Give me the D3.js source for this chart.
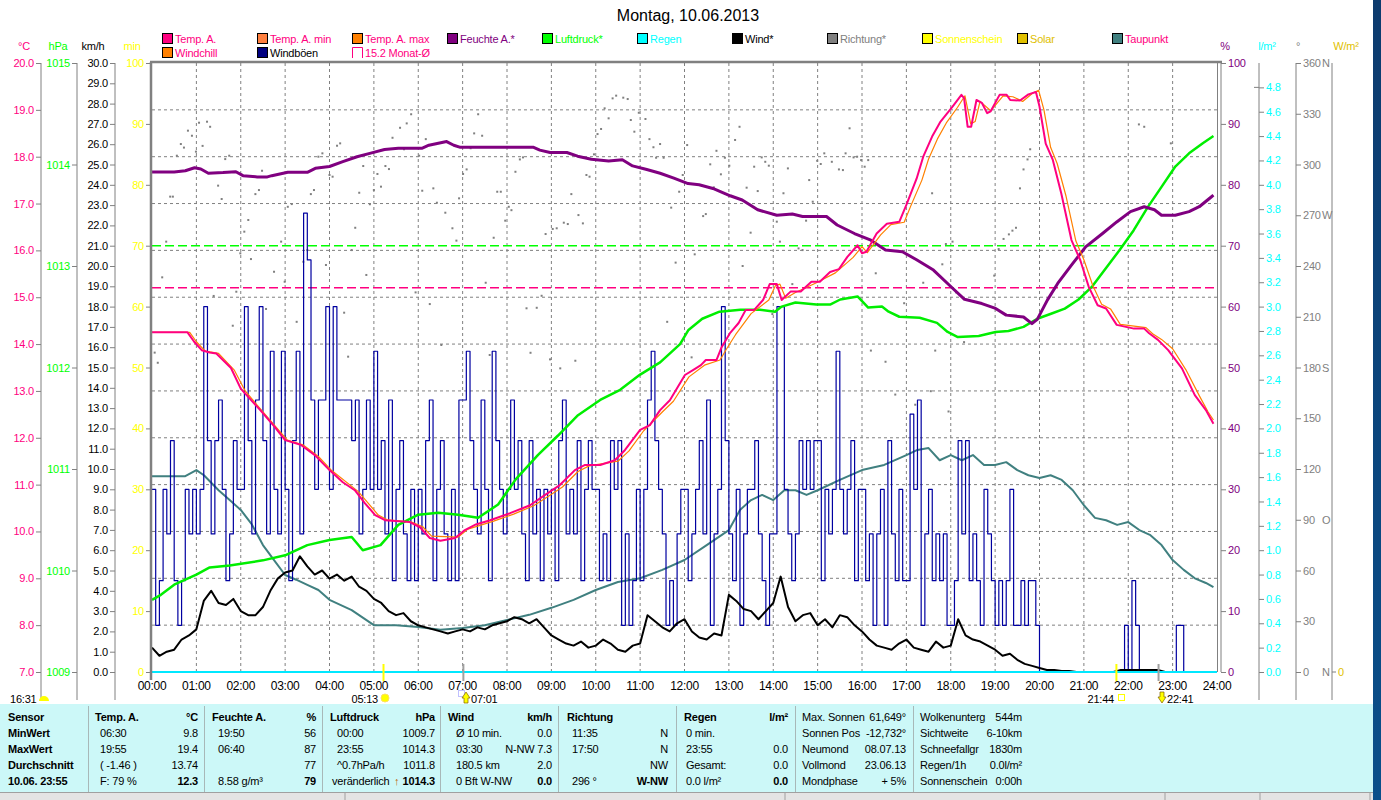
<!DOCTYPE html>
<html><head><meta charset="utf-8">
<script src="https://cdn.jsdelivr.net/npm/d3@7"></script>
<style>body{margin:0;background:#fff}svg{display:block}</style>
</head><body><svg id="c" width="1381" height="800"></svg>
<script>
// ---------------- DATA ----------------
const title = "Montag, 10.06.2013";
const hourLabels = ["00:00","01:00","02:00","03:00","04:00","05:00","06:00","07:00","08:00","09:00","10:00","11:00","12:00","13:00","14:00","15:00","16:00","17:00","18:00","19:00","20:00","21:00","22:00","23:00","24:00"];
const tempTicks = [7,8,9,10,11,12,13,14,15,16,17,18,19,20];
const pressTicks = [1009,1010,1011,1012,1013,1014,1015];
const windTicks = d3.range(0,30.001,1);
const minTicks = [0,10,20,30,40,50,60,70,80,90,100];
const pctTicks = [0,10,20,30,40,50,60,70,80,90,100];
const rainTicks = d3.range(0,4.801,0.2);
const dirTicks = [0,30,60,90,120,150,180,210,240,270,300,330,360];
const dirLetters = {0:"N",90:"O",180:"S",270:"W",360:"N"};
const monthAvgTemp = 15.2;
const monthAvgPress = 1013.2;

// Temp. A. [hour, °C]
const tempA = [[0,14.25],[0.8,14.25],[0.95,14.05],[1.12,13.87],[1.3,13.82],[1.45,13.8],[1.78,13.49],[2.0,13.05],[2.43,12.6],[2.75,12.25],[3.0,11.95],[3.35,11.85],[3.67,11.63],[4.0,11.31],[4.3,11.05],[4.57,10.88],[4.8,10.6],[5.03,10.35],[5.25,10.24],[5.81,10.2],[6.04,10.09],[6.26,9.86],[6.5,9.8],[6.83,9.86],[7.05,10.03],[7.3,10.15],[7.62,10.24],[8.07,10.39],[8.52,10.56],[8.86,10.78],[9.19,10.99],[9.53,11.31],[9.76,11.42],[10.1,11.42],[10.43,11.52],[10.66,11.74],[11.0,12.17],[11.22,12.27],[11.45,12.59],[11.67,12.8],[12.01,13.34],[12.2,13.45],[12.37,13.55],[12.48,13.66],[12.72,13.66],[12.83,13.92],[13.03,14.24],[13.22,14.45],[13.38,14.73],[13.57,14.73],[13.77,14.94],[13.92,15.28],[14.08,15.28],[14.19,14.94],[14.39,15.12],[14.62,15.12],[14.86,15.33],[15.05,15.33],[15.28,15.54],[15.48,15.6],[15.67,15.86],[15.9,16.11],[16.0,15.94],[16.1,15.97],[16.33,16.36],[16.56,16.57],[16.84,16.61],[17.0,16.97],[17.23,17.53],[17.38,18.0],[17.58,18.43],[17.77,18.75],[18.04,19.07],[18.24,19.32],[18.3,19.25],[18.38,18.64],[18.46,18.64],[18.58,19.21],[18.7,19.15],[18.82,18.93],[18.9,18.97],[19.1,19.32],[19.26,19.32],[19.34,19.21],[19.56,19.2],[19.75,19.33],[19.92,19.38],[20.0,19.07],[20.14,18.28],[20.3,17.93],[20.49,17.22],[20.72,16.22],[20.92,15.79],[21.11,15.22],[21.31,14.83],[21.5,14.76],[21.74,14.41],[22.13,14.33],[22.36,14.33],[22.47,14.23],[22.67,14.09],[22.9,13.87],[23.21,13.48],[23.5,12.91],[23.75,12.59],[23.92,12.3]];

// Temp. A. max / Windchill (orange)
const tempMax = [[0,14.25],[0.85,14.25],[1.0,14.05],[1.2,13.85],[1.5,13.8],[1.85,13.45],[2.1,13.0],[2.5,12.55],[3.05,11.95],[3.4,11.85],[3.75,11.6],[4.05,11.3],[4.65,10.85],[5.1,10.35],[5.3,10.25],[5.85,10.2],[6.1,10.1],[6.3,9.9],[6.9,9.88],[7.12,10.05],[7.7,10.22],[8.15,10.37],[8.6,10.55],[8.95,10.76],[9.25,10.95],[9.6,11.28],[9.85,11.4],[10.5,11.5],[10.75,11.72],[11.08,12.15],[11.5,12.55],[11.75,12.78],[12.1,13.3],[12.45,13.55],[12.8,13.66],[12.95,13.9],[13.15,14.2],[13.5,14.65],[13.9,14.94],[14.05,15.25],[14.15,15.28],[14.28,14.98],[14.5,15.1],[14.95,15.3],[15.4,15.52],[15.8,15.85],[16.0,16.08],[16.12,15.95],[16.42,16.33],[16.65,16.55],[16.95,16.6],[17.1,16.95],[17.35,17.5],[17.5,17.95],[17.7,18.38],[17.9,18.72],[18.15,19.05],[18.32,19.3],[18.45,18.7],[18.55,18.75],[18.66,19.18],[18.9,18.98],[19.18,19.3],[19.4,19.28],[19.62,19.18],[19.85,19.36],[19.98,19.42],[20.1,19.0],[20.25,18.2],[20.4,17.85],[20.6,17.15],[20.82,16.2],[21.0,15.8],[21.2,15.25],[21.4,14.85],[21.6,14.75],[21.82,14.42],[22.4,14.35],[22.55,14.22],[22.75,14.1],[23.0,13.9],[23.3,13.45],[23.6,12.9],[23.8,12.55],[23.92,12.38]];

// Feuchte A. [hour, %]
const humidity = [[0,82.1],[0.5,82.1],[0.75,82.3],[0.96,82.8],[1.1,82.6],[1.27,81.9],[1.6,82.0],[1.89,82.15],[2.05,81.5],[2.37,81.3],[2.6,81.3],[2.7,81.5],[3.06,82.05],[3.5,82.05],[3.68,82.7],[4.0,83.0],[4.3,83.8],[4.62,84.6],[4.93,85.2],[5.24,85.8],[5.55,86.0],[6.08,86.0],[6.24,86.5],[6.64,87.1],[6.8,86.5],[6.95,86.15],[8.6,86.15],[8.74,85.7],[8.97,85.3],[9.35,85.3],[9.59,84.7],[9.9,84.2],[10.29,83.9],[10.6,84.1],[10.83,83.1],[11.15,82.5],[11.45,81.9],[11.76,81.1],[12.08,80.2],[12.33,80.0],[12.64,79.4],[13.03,78.2],[13.3,77.5],[13.65,75.9],[14.08,75.0],[14.43,75.2],[14.66,74.8],[15.2,74.8],[15.44,73.4],[15.83,72.0],[16.2,70.9],[16.53,69.3],[16.91,69.0],[17.23,67.7],[17.61,66.0],[18.0,63.3],[18.31,61.2],[18.7,60.5],[19.01,59.7],[19.25,58.6],[19.64,58.3],[19.83,57.2],[19.95,57.9],[20.18,61.1],[20.41,63.8],[20.72,66.8],[21.04,69.8],[21.42,72.0],[21.74,73.9],[22.05,75.6],[22.36,76.4],[22.59,75.9],[22.75,75.0],[23.06,75.0],[23.37,75.6],[23.6,76.4],[23.87,78.0],[23.92,78.3]];

// Luftdruck [hour, hPa]
const pressure = [[0,1009.71],[0.2,1009.76],[0.5,1009.86],[1.0,1009.96],[1.3,1010.03],[1.75,1010.05],[2.5,1010.1],[3.0,1010.15],[3.5,1010.25],[4.0,1010.3],[4.5,1010.33],[4.75,1010.2],[5.15,1010.25],[5.55,1010.45],[6.0,1010.55],[6.45,1010.57],[6.9,1010.55],[7.35,1010.52],[7.8,1010.65],[8.2,1010.9],[8.7,1011.14],[9.15,1011.33],[9.6,1011.53],[10.1,1011.68],[10.55,1011.78],[11.0,1011.93],[11.45,1012.05],[11.9,1012.23],[12.09,1012.37],[12.4,1012.48],[12.79,1012.55],[13.26,1012.57],[13.7,1012.57],[14.04,1012.55],[14.19,1012.6],[14.5,1012.64],[14.97,1012.62],[15.28,1012.62],[15.51,1012.67],[15.9,1012.7],[16.14,1012.59],[16.45,1012.6],[16.6,1012.55],[16.84,1012.5],[17.3,1012.49],[17.69,1012.44],[17.93,1012.35],[18.16,1012.3],[18.63,1012.31],[19.01,1012.35],[19.3,1012.36],[19.64,1012.4],[19.95,1012.48],[20.26,1012.53],[20.57,1012.58],[20.88,1012.67],[21.19,1012.8],[21.5,1012.98],[21.81,1013.16],[22.12,1013.35],[22.44,1013.58],[22.75,1013.78],[23.06,1013.98],[23.37,1014.11],[23.68,1014.21],[23.92,1014.28]];

// Taupunkt [hour, °C]
const dewPoint = [[0,11.18],[0.75,11.18],[1.0,11.31],[1.17,11.2],[1.5,10.88],[1.75,10.67],[2.0,10.46],[2.25,10.15],[2.5,9.71],[2.75,9.39],[3.0,9.07],[3.25,8.97],[3.5,8.86],[3.75,8.75],[4.0,8.54],[4.5,8.32],[5.0,8.0],[5.5,8.0],[6.0,7.96],[6.5,7.9],[7.0,7.94],[7.5,8.0],[8.0,8.11],[8.5,8.22],[9.0,8.37],[9.5,8.54],[10.0,8.75],[10.5,8.92],[11.0,9.0],[11.5,9.18],[12.0,9.39],[12.5,9.71],[13.0,10.03],[13.25,10.46],[13.5,10.67],[13.75,10.78],[14.0,10.67],[14.25,10.88],[14.5,10.88],[14.75,10.78],[15.0,10.88],[15.5,11.1],[16.0,11.31],[16.5,11.42],[17.0,11.63],[17.25,11.74],[17.5,11.78],[17.75,11.52],[18.0,11.63],[18.25,11.52],[18.5,11.63],[18.75,11.42],[19.0,11.42],[19.25,11.48],[19.5,11.31],[19.75,11.2],[20.0,11.14],[20.25,11.2],[20.5,11.1],[20.75,10.88],[21.0,10.56],[21.25,10.29],[21.5,10.24],[21.75,10.14],[22.0,10.2],[22.25,10.03],[22.5,9.92],[22.75,9.71],[23.0,9.39],[23.25,9.18],[23.5,9.0],[23.75,8.9],[23.92,8.81]];

// Wind* 10-minute means, km/h (00:00 .. 23:50)
const wind = [
1.2,0.8,1.0,1.1,1.6,1.8, 2.1,3.5,4.0,3.4,3.3,3.6, 3.0,2.8,2.8,3.2,4.0,4.6, 4.9,5.0,5.7,5.2,4.8,5.0,
4.6,4.8,4.5,4.7,4.2,4.0, 3.6,3.4,3.0,2.8,2.9,2.5, 2.3,2.2,2.1,2.0,1.9,2.0, 2.1,2.0,2.2,2.1,2.3,2.4,
2.5,2.7,2.6,2.4,2.6,2.2, 1.8,1.6,1.4,1.3,1.5,1.2, 1.3,1.6,1.4,1.1,1.0,1.3, 1.4,2.8,2.5,2.2,2.0,2.4,
2.6,2.0,1.7,1.6,1.9,1.8, 3.8,3.5,3.1,3.0,2.6,3.0, 3.4,4.7,3.2,2.5,2.8,2.9, 2.3,2.6,2.2,2.8,2.7,2.3,
2.0,1.6,1.3,1.2,1.1,1.4, 1.6,1.2,1.1,1.0,1.5,1.2, 1.3,2.6,1.8,1.6,1.5,1.3, 1.1,0.8,0.9,0.6,0.4,0.3,
0.2,0.1,0.1,0.05,0.05,0.0, 0,0,0,0,0,0.1, 0.1,0.1,0.1,0.1,0.1,0, 0,0,0,0,0,0];

// Windböen 5-minute values, km/h (00:00 .. 23:55)
const gusts = [
9.0,2.3,4.5,9.0,6.8,11.4,4.5,2.3,4.5,9.0,6.8,9.0,
6.8,9.0,18.0,11.4,6.8,11.4,13.4,9.0,4.5,6.8,11.4,9.0,
9.0,18.0,11.4,6.8,13.4,18.0,11.4,6.8,15.8,9.0,6.8,15.8,
9.0,4.5,11.4,15.8,6.8,22.6,20.3,13.4,9.0,13.4,13.4,18.0,
9.0,18.0,13.4,13.4,13.4,13.4,11.4,13.4,6.8,9.0,13.4,9.0,
15.8,9.0,11.4,6.8,13.4,4.5,9.0,11.4,6.8,4.5,9.0,4.5,
9.0,6.8,11.4,13.4,4.5,9.0,11.4,6.8,4.5,9.0,4.5,13.4,
13.4,15.8,11.4,9.0,6.8,13.4,9.0,4.5,15.8,11.4,9.0,6.8,
9.0,13.4,9.0,11.4,6.8,4.5,11.4,6.8,9.0,4.5,9.0,6.8,
9.0,4.5,11.4,13.4,6.8,9.0,6.8,11.4,4.5,9.0,11.4,9.0,
9.0,4.5,6.8,4.5,11.4,9.0,11.4,2.3,6.8,2.3,4.5,9.0,
4.5,9.0,13.4,15.8,11.4,9.0,6.8,2.3,4.5,2.3,6.8,9.0,
9.0,4.5,6.8,9.0,11.4,6.8,13.4,2.3,6.8,9.0,18.0,11.4,
6.8,4.5,9.0,2.3,6.8,9.0,9.0,11.4,6.8,4.5,2.3,6.8,
6.8,18.0,18.0,9.0,6.8,4.5,6.8,11.4,9.0,11.4,9.0,11.4,
11.4,4.5,9.0,6.8,9.0,15.8,9.0,6.8,9.0,11.4,4.5,9.0,
9.0,4.5,6.8,2.3,6.8,9.0,2.3,11.4,6.8,4.5,9.0,4.5,
4.5,12.7,9.0,13.4,2.3,6.8,9.0,4.5,6.8,4.5,6.8,2.3,
2.3,4.5,11.4,6.8,11.4,4.5,6.8,4.5,2.3,9.0,6.8,4.5,
2.3,4.5,2.3,4.5,9.0,2.3,2.3,4.5,2.3,4.5,4.5,2.3,
0,0,0,0,0,0,0,0,0,0,0,0,
0,0,0,0,0,0,0,0,0,0,0,2.3,
0,4.5,2.3,0,0,0,0,0,0,0,0,0,
0,2.3,2.3,0,0,0,0,0,0,0,0,0];

// Richtung* [hour, degrees]
const direction = [[0.06,188.8],[0.13,182.8],[0.23,233.3],[0.32,254.4],[0.41,281],[0.47,281],[0.56,305.2],[0.65,312.1],[0.72,310],[0.81,320],[0.9,317],[0.99,307.6],[1.06,324.7],[1.14,311],[1.24,325.3],[1.31,322.3],[1.39,222.3],[1.49,287.5],[1.57,279.6],[1.65,303.2],[1.74,305.2],[1.82,204.7],[1.9,224.8],[1.99,247.5],[2.08,260.3],[2.17,267.2],[2.23,244.1],[2.33,282.5],[2.41,284.9],[2.48,296.3],[2.57,214.6],[2.75,236.6],[2.91,254.4],[2.99,230.7],[3.06,275],[3.15,276.6],[3.26,207],[3.41,242.5],[3.5,249.4],[3.58,282.5],[3.65,284.9],[3.75,304.6],[3.84,306.6],[3.92,240.6],[4.0,293.8],[4.07,292.8],[4.17,311.1],[4.24,312.5],[4.33,212.4],[4.42,186.4],[4.5,249.4],[4.58,262.6],[4.67,283.3],[4.76,299.1],[4.83,234.7],[4.91,276.5],[5.0,284.9],[5.08,294.4],[5.16,286.9],[5.26,299.1],[5.34,297.3],[5.42,315.8],[5.59,321.7],[5.68,309],[5.74,324.3],[5.84,329.7],[5.94,224.4],[6.02,305.2],[6.09,284.5],[6.17,315],[6.26,217.5],[6.34,285.9],[6.42,277.4],[6.52,193.3],[6.61,271.5],[6.77,262.3],[6.86,255],[6.92,280],[7.01,294.4],[7.09,297.1],[7.18,309.6],[7.26,318.4],[7.35,329.7],[7.44,317],[7.52,230.1],[7.61,187.4],[7.7,256.7],[7.78,283.9],[7.86,283.9],[7.96,266.8],[8.04,275],[8.1,273],[8.19,295.7],[8.29,303],[8.36,304.2],[8.44,215],[8.53,188.7],[8.67,215.3],[8.78,222.4],[8.87,258.9],[8.97,184.8],[9.03,261.9],[9.12,262.3],[9.2,179.5],[9.28,265.6],[9.37,264.8],[9.45,282.5],[9.54,184],[9.61,270.1],[9.71,265.2],[9.79,293.8],[9.86,292.8],[9.96,306],[10.04,318],[10.12,321],[10.2,333.2],[10.29,327.3],[10.38,339.1],[10.46,340.7],[10.62,339.5],[10.72,338.7],[10.79,326.3],[10.87,319.4],[10.97,330.6],[11.12,326.9],[11.21,315],[11.3,310.2],[11.36,304],[11.45,312.1],[11.53,304],[11.61,207],[11.7,274.5],[11.8,242],[11.88,283.9],[11.96,293.8],[12.06,311.5],[12.16,186],[12.23,246.9],[12.42,269.5],[12.48,270.7],[12.58,300.1],[12.66,286.5],[12.72,308.1],[12.82,294.2],[12.91,304],[13.01,299.3],[13.14,314.5],[13.24,322.3],[13.31,240],[13.4,286.3],[13.49,259.7],[13.57,298.7],[13.65,284.3],[13.74,304.2],[13.82,301.6],[13.9,299.3],[13.98,211.6],[14.08,266.2],[14.15,254.4],[14.23,283],[14.33,297.7],[14.43,229.3],[14.57,250.4],[14.66,249.4],[14.74,266.8],[14.81,290.8],[14.89,278],[14.99,302.2],[15.07,300.3],[15.15,306.6],[15.32,301.6],[15.48,297.1],[15.57,296.7],[15.63,306.6],[15.72,321.4],[15.81,304.2],[15.89,304.6],[15.98,302.6],[16.06,298.7],[16.14,302.6],[16.2,190],[16.31,235.7],[16.53,183.4],[16.75,164],[16.95,218],[17.2,158],[17.38,230.1],[17.55,166],[17.58,283],[17.65,190],[17.81,241],[17.89,253],[17.95,154],[18.04,254.4],[18.12,224.4],[18.3,195],[18.98,234.3],[19.08,250],[19.19,256],[19.31,258.7],[19.39,260.9],[19.47,262.6],[19.56,285.9],[19.64,297.1],[19.73,303],[19.79,309],[22.24,323.7],[22.36,322.3],[22.96,312.5]];

// Regen [hour, l/m²]
const rain = [[0,0],[6,0],[12,0],[18,0],[24,0]];

// Sun / moon events [hour, label]
const sunrise = [5.217,"05:13"], moonrise = [7.017,"07:01"], sunset = [21.733,"21:44"], moonset = [22.683,"22:41"];

const legendItems = [
  ["Temp. A.","#ff0080","#ff0080"],["Temp. A. min","#ff8040","#ff0080"],["Temp. A. max","#ff8000","#ff0080"],
  ["Feuchte A.*","#800080","#800080"],["Luftdruck*","#00ff00","#00ff00"],["Regen","#00ffff","#00ffff"],
  ["Wind*","#000000","#000000"],["Richtung*","#808080","#808080"],["Sonnenschein","#ffff00","#ffff00"],
  ["Solar","#e0c000","#e0c000"],["Taupunkt","#408080","#ff0080"]];
const legendItems2 = [["Windchill","#ff8000","#ff0080"],["Windböen","#000080","#000000"]];

const tableCols = [
  {h:["Sensor",""], l:["MinWert","MaxWert","Durchschnitt","10.06. 23:55"], r:["","","",""]},
  {h:["Temp. A.","°C"], l:["06:30","19:55","( -1.46 )","F: 79 %"], r:["9.8","19.4","13.74","12.3"]},
  {h:["Feuchte A.","%"], l:["19:50","06:40","","8.58 g/m³"], r:["56","87","77","79"]},
  {h:["Luftdruck","hPa"], l:["00:00","23:55","^0.7hPa/h","veränderlich"], r:["1009.7","1014.3","1011.8","1014.3"]},
  {h:["Wind","km/h"], l:["Ø 10 min.","03:30","180.5 km","0 Bft W-NW"], r:["0.0","N-NW 7.3","2.0","0.0"]},
  {h:["Richtung",""], l:["11:35","17:50","","296 °"], r:["N","N","NW","W-NW"]},
  {h:["Regen","l/m²"], l:["0 min.","23:55","Gesamt:","0.0 l/m²"], r:["","0.0","0.0","0.0"]}
];
const sunCol = [["Max. Sonnen","61,649°"],["Sonnen Pos","-12,732°"],["Neumond","08.07.13"],["Vollmond","23.06.13"],["Mondphase","+ 5%"]];
const miscCol = [["Wolkenunterg","544m"],["Sichtweite","6-10km"],["Schneefallgr","1830m"],["Regen/1h","0.0l/m²"],["Sonnenschein","0:00h"]];

// ---------------- DRAWING ----------------
const FONT = "'Liberation Sans',Arial,sans-serif";
const FS = 11;
const svg = d3.select("#c").style("font-family", FONT);
const X0 = 152, X1 = 1217, YT = 63, YB = 672;
const x = d3.scaleLinear().domain([0,24]).range([X0,X1]);
const yT = d3.scaleLinear().domain([7,20]).range([YB,YT]);
const yP = d3.scaleLinear().domain([1009,1015]).range([YB,YT]);
const yW = d3.scaleLinear().domain([0,30]).range([YB,YT]);
const yM = d3.scaleLinear().domain([0,100]).range([YB,YT]);
const yH = d3.scaleLinear().domain([0,100]).range([YB,YT]);
const yR = d3.scaleLinear().domain([0,5]).range([YB,YT]);
const yD = d3.scaleLinear().domain([0,360]).range([YB,YT]);

svg.append("rect").attr("width",1381).attr("height",800).attr("fill","#fff");

function txt(g,x0,y0,s,o={}){
  return g.append("text").attr("x",x0).attr("y",y0).text(s)
    .attr("font-size",o.size||FS).attr("fill",o.fill||"#000")
    .attr("letter-spacing",o.ls!==undefined?o.ls:-0.2)
    .attr("text-anchor",o.anchor||"start").attr("font-weight",o.bold?"bold":"normal");
}

// title
txt(svg,688,21,title,{size:16,anchor:"middle",ls:0});

// legend
legendItems.forEach((d,i)=>{
  const lx = 162 + i*95;
  svg.append("rect").attr("x",lx+0.5).attr("y",33.5).attr("width",10).attr("height",10).attr("fill",d[1]).attr("stroke","#000");
  txt(svg,lx+13,43,d[0],{fill:d[2]});
});
legendItems2.forEach((d,i)=>{
  const lx = 162 + i*95;
  svg.append("rect").attr("x",lx+0.5).attr("y",47.5).attr("width",10).attr("height",10).attr("fill",d[1]).attr("stroke","#000");
  txt(svg,lx+13,57,d[0],{fill:d[2]});
});
svg.append("path").attr("d","M352.5,58V47.5H362.5V58").attr("fill","none").attr("stroke","#ff0080");
txt(svg,365,57,monthAvgTemp.toFixed(1)+" Monat-Ø",{fill:"#ff0080"});

// unit headers
txt(svg,24,50,"°C",{fill:"#ff0080",anchor:"middle"});
txt(svg,58,50,"hPa",{fill:"#00ff00",anchor:"middle"});
txt(svg,93,50,"km/h",{anchor:"middle"});
txt(svg,132,50,"min",{fill:"#ffff00",anchor:"middle"});
txt(svg,1225,50,"%",{fill:"#800080",anchor:"middle"});
txt(svg,1267,50,"l/m²",{fill:"#00ffff",anchor:"middle"});
txt(svg,1298,50,"°",{fill:"#808080",anchor:"middle"});
txt(svg,1346,50,"W/m²",{fill:"#e0c000",anchor:"middle"});

// axes
function axis(scale,xPos,ticks,fmt,color,side,lineBottom){
  const ax = (side==="left"?d3.axisLeft(scale):d3.axisRight(scale))
    .tickValues(ticks).tickFormat(fmt).tickSize(5).tickSizeOuter(0).tickPadding(2);
  const g = svg.append("g").attr("transform",`translate(${xPos},0)`).call(ax);
  g.select(".domain").remove();
  g.selectAll(".tick line").attr("stroke","#808080");
  g.selectAll(".tick text").attr("fill",color).attr("font-size",FS).attr("font-family",FONT).attr("letter-spacing",-0.2);
  g.append("line").attr("y1",YT).attr("y2",lineBottom).attr("stroke","#808080");
  return g;
}
axis(yT,41,tempTicks,d3.format(".1f"),"#ff0080","left",700);
axis(yP,77,pressTicks,d3.format("d"),"#00ff00","left",700);
axis(yW,115,windTicks,d3.format(".1f"),"#000","left",700);
axis(yM,151,minTicks,d3.format("d"),"#ffff00","left",680);
axis(yH,1221,pctTicks,d3.format("d"),"#800080","right",672);
axis(yR,1259,rainTicks,d3.format(".1f"),"#00ffff","right",700);
svg.append("line").attr("x1",1254).attr("x2",1259).attr("y1",yR(4.8)).attr("y2",yR(4.8)).attr("stroke","#808080");
axis(yD,1296,dirTicks,d3.format("d"),"#808080","right",700);
Object.keys(dirLetters).forEach(k=>txt(svg,1322,yD(+k)+4,dirLetters[k],{fill:"#808080"}));
svg.append("line").attr("x1",1332).attr("x2",1332).attr("y1",YT).attr("y2",700).attr("stroke","#808080");
svg.append("line").attr("x1",1332).attr("x2",1336).attr("y1",YB).attr("y2",YB).attr("stroke","#808080");
txt(svg,1338,YB+4,"0",{fill:"#e0c000"});

// grid
const grid = svg.append("g").attr("stroke","#808080").attr("stroke-dasharray","3,3");
tempTicks.filter(t=>t>7&&t<20).forEach(t=>grid.append("line").attr("x1",X0).attr("x2",X1).attr("y1",yT(t)).attr("y2",yT(t)));
d3.range(1,24).forEach(h=>grid.append("line").attr("x1",x(h)).attr("x2",x(h)).attr("y1",YT).attr("y2",YB));

// x labels
hourLabels.forEach((s,i)=>txt(svg,x(i),690,s,{anchor:"middle",size:12,ls:-0.3}));

// month averages
svg.append("line").attr("x1",X0).attr("x2",X1).attr("y1",yP(monthAvgPress)).attr("y2",yP(monthAvgPress))
  .attr("stroke","#00ff00").attr("stroke-width",1.5).attr("stroke-dasharray","9,4");
svg.append("line").attr("x1",X0).attr("x2",X1).attr("y1",yT(monthAvgTemp)).attr("y2",yT(monthAvgTemp))
  .attr("stroke","#ff0080").attr("stroke-width",1.5).attr("stroke-dasharray","9,4");

// direction dots
svg.append("g").selectAll("rect").data(direction).join("rect")
  .attr("x",d=>x(d[0])-1).attr("y",d=>yD(d[1])-1).attr("width",2).attr("height",2).attr("fill","#808080");

const linePair = (ys)=>d3.line().x(d=>x(d[0])).y(d=>ys(d[1]));
function path(data,gen,color,w){
  svg.append("path").datum(data).attr("d",gen).attr("fill","none").attr("stroke",color)
    .attr("stroke-width",w).attr("stroke-linejoin","round");
}
path(dewPoint,linePair(yT),"#408080",2);
path(gusts,d3.line().x((d,i)=>x(i/12)).y(d=>yW(d)).curve(d3.curveStepAfter),"#0000a0",1.2);
path(wind,d3.line().x((d,i)=>x(i/6)).y(d=>yW(d)),"#000",2);
path(pressure,linePair(yP),"#00ee00",2.5);
path(humidity,linePair(yH),"#800080",3);
path(tempMax,linePair(yT),"#ff8000",1.2);
path(tempA,linePair(yT),"#ff0080",2);
path(rain,linePair(yR),"#00e8ff",2);

// frame
svg.append("line").attr("x1",150).attr("x2",1222).attr("y1",62).attr("y2",62).attr("stroke","#808080").attr("stroke-width",2.5);
svg.append("line").attr("x1",151).attr("x2",151).attr("y1",62).attr("y2",680).attr("stroke","#808080").attr("stroke-width",2.5);
svg.append("line").attr("x1",1217.5).attr("x2",1217.5).attr("y1",62).attr("y2",672).attr("stroke","#808080").attr("stroke-width",1);

// sun/moon markers
[[sunrise,"#ffff00"],[moonrise,"#a0a0a0"],[sunset,"#ffff00"],[moonset,"#a0a0a0"]].forEach(([e,c])=>{
  svg.append("line").attr("x1",x(e[0])).attr("x2",x(e[0])).attr("y1",664).attr("y2",681).attr("stroke",c).attr("stroke-width",2);
});
txt(svg,378,703,sunrise[1],{anchor:"end",size:11});
svg.append("circle").attr("cx",385).attr("cy",698).attr("r",4).attr("fill","#ffff00").attr("stroke","#ffe060");
txt(svg,471,703,moonrise[1],{size:11});
svg.append("rect").attr("x",458.5).attr("y",690.5).attr("width",6).attr("height",6).attr("fill","none").attr("stroke","#8080ff").attr("stroke-dasharray","1,1");
svg.append("path").attr("d","M466,692L470,698H468V703H464V698H462Z").attr("fill","#ffff00").attr("stroke","#806000").attr("stroke-width",0.7);
txt(svg,1114,703,sunset[1],{anchor:"end",size:11});
svg.append("rect").attr("x",1118.5).attr("y",694.5).attr("width",6).attr("height",6).attr("fill","none").attr("stroke","#ffff00");
svg.append("path").attr("d","M1162,703L1166,697H1164V692H1160V697H1158Z").attr("fill","#ffff00").attr("stroke","#806000").attr("stroke-width",0.7);
txt(svg,1167,703,moonset[1],{size:11});
txt(svg,10,703,"16:31",{size:11});
svg.append("path").attr("d","M39,701A5,5 0 0 1 49,701Z").attr("fill","#ffff00");

// table
const tb = svg.append("g");
tb.append("rect").attr("x",0).attr("y",704).attr("width",1373).attr("height",88).attr("fill","#ccf8f8");
[88,204,322,440,558,676,795,913].forEach(sx=>tb.append("line").attr("x1",sx+0.5).attr("x2",sx+0.5).attr("y1",706).attr("y2",792).attr("stroke","#a8b8b8"));
const rowsY = [721,737,753,769,785];
const colL = [8,95,212,330,448,567,684], colR = [0,198,316,435,552,668,788];
const subL = [8,100,218,337,456,572,686];
tableCols.forEach((c,ci)=>{
  txt(tb,colL[ci],rowsY[0],c.h[0],{bold:true});
  if(c.h[1]) txt(tb,colR[ci],rowsY[0],c.h[1],{bold:true,anchor:"end"});
  c.l.forEach((s,ri)=>{ if(s) txt(tb, ci===0?colL[0]:(ri===3&&ci===3?332:subL[ci]), rowsY[ri+1], s, {bold:ci===0}); });
  c.r.forEach((s,ri)=>{ if(s) txt(tb, colR[ci], rowsY[ri+1], s, {bold:ri===3, anchor:"end"}); });
});
txt(tb,394,785,"↑",{fill:"#c06000",bold:true});
sunCol.forEach((d,i)=>{ txt(tb,802,rowsY[i],d[0]); txt(tb,906,rowsY[i],d[1],{anchor:"end"}); });
miscCol.forEach((d,i)=>{ txt(tb,920,rowsY[i],d[0]); txt(tb,1022,rowsY[i],d[1],{anchor:"end"}); });
// status bar
svg.append("rect").attr("x",0).attr("y",792).attr("width",1373).attr("height",8).attr("fill","#e4e4e4");
svg.append("line").attr("x1",0).attr("x2",1373).attr("y1",792.5).attr("y2",792.5).attr("stroke","#a0a0a0");
[345,785,1165,1260,1370].forEach(sx=>svg.append("line").attr("x1",sx).attr("x2",sx).attr("y1",793).attr("y2",800).attr("stroke","#a0a0a0"));
// window edge
const grad = svg.append("defs").append("linearGradient").attr("id","edge").attr("x1",0).attr("x2",0).attr("y1",0).attr("y2",1);
grad.append("stop").attr("offset","0").attr("stop-color","#0d3b6e");
grad.append("stop").attr("offset","1").attr("stop-color","#0a4f8a");
svg.append("rect").attr("x",1373).attr("y",0).attr("width",8).attr("height",800).attr("fill","url(#edge)");
</script></body></html>
